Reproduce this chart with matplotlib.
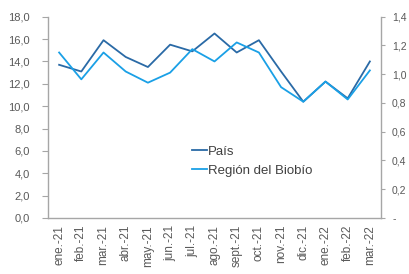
import matplotlib
matplotlib.use("Agg")
import matplotlib.pyplot as plt

months = ["ene.-21", "feb.-21", "mar.-21", "abr.-21", "may.-21", "jun.-21", "jul.-21",
          "ago.-21", "sept.-21", "oct.-21", "nov.-21", "dic.-21", "ene.-22", "feb.-22", "mar.-22"]
pais = [13.7, 13.1, 15.9, 14.4, 13.5, 15.5, 14.9, 16.5, 14.8, 15.9, 13.1, 10.4, 12.2, 10.7, 14.0]
biobio = [14.8, 12.4, 14.8, 13.1, 12.1, 13.0, 15.1, 14.0, 15.7, 14.8, 11.7, 10.4, 12.2, 10.6, 13.2]

left_ticks = [0, 2, 4, 6, 8, 10, 12, 14, 16, 18]
left_labels = ["0,0", "2,0", "4,0", "6,0", "8,0", "10,0", "12,0", "14,0", "16,0", "18,0"]
right_ticks = [0, 0.2, 0.4, 0.6, 0.8, 1.0, 1.2, 1.4]
right_labels = ["-", "0,2", "0,4", "0,6", "0,8", "1,0", "1,2", "1,4"]

plt.rcParams['font.family'] = ['Liberation Sans', 'DejaVu Sans']
gray = "#595959"
spine_c = "#a6a6a6"

fig = plt.figure(figsize=(4.09, 2.74), dpi=100)
ax = fig.add_axes([0.1174, 0.2044, 0.8141, 0.7346])
x = list(range(len(months)))
ax.plot(x, pais, color="#2a6aa6", lw=1.3, label="País")
ax.plot(x, biobio, color="#1aa0e6", lw=1.3, label="Región del Biobío")
ax.set_xlim(-0.5, len(months) - 0.5)
ax.set_ylim(0, 18)
ax.set_yticks(left_ticks)
ax.set_yticklabels(left_labels)
ax.set_xticks(x)
ax.set_xticklabels(months, rotation=90)
ax.tick_params(axis='x', length=0, pad=5, labelsize=8.5, colors=gray)
ax.tick_params(axis='y', length=4, width=0.8, color=spine_c, labelsize=8, labelcolor=gray, pad=9)
for s in ["top", "right"]:
    ax.spines[s].set_visible(False)
for s in ["left", "bottom"]:
    ax.spines[s].set_color(spine_c)
    ax.spines[s].set_linewidth(1.0)

ax2 = ax.twinx()
ax2.set_ylim(0, 1.4)
ax2.set_yticks(right_ticks)
ax2.set_yticklabels(right_labels)
ax2.tick_params(axis='y', length=3, width=0.8, color=spine_c, labelsize=7.5, labelcolor=gray, pad=5)
for s in ["top", "left", "bottom"]:
    ax2.spines[s].set_visible(False)
ax2.spines["right"].set_color(spine_c)
ax2.spines["right"].set_linewidth(1.0)

leg = ax.legend(loc="upper left", bbox_to_anchor=(0.4315, 0.36), frameon=False,
                fontsize=9.5, handlelength=1.15, handletextpad=0.1, borderpad=0,
                borderaxespad=0, labelspacing=0.5, labelcolor="#404040")
fig.savefig("out.png", dpi=100)
